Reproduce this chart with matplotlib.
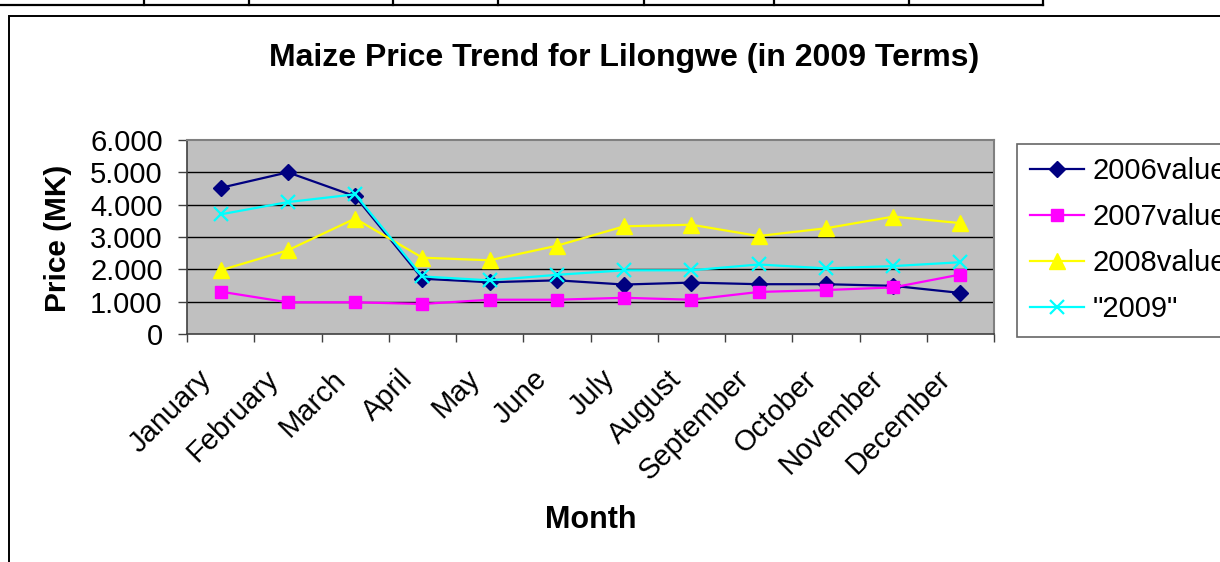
import matplotlib
matplotlib.use('Agg')
import matplotlib.pyplot as plt
from matplotlib.lines import Line2D
from matplotlib.patches import Rectangle
import numpy as np

months = ['January', 'February', 'March', 'April', 'May', 'June', 'July',
          'August', 'September', 'October', 'November', 'December']

# prices in thousand MK
v2006 = [4.52, 5.00, 4.26, 1.71, 1.60, 1.66, 1.53, 1.59, 1.54, 1.54, 1.49, 1.27]
v2007 = [1.31, 0.98, 0.98, 0.93, 1.06, 1.06, 1.12, 1.06, 1.30, 1.36, 1.44, 1.84]
v2008 = [1.97, 2.59, 3.57, 2.36, 2.28, 2.73, 3.33, 3.38, 3.03, 3.27, 3.63, 3.43]
v2009 = [3.70, 4.08, 4.32, 1.78, 1.66, 1.83, 1.97, 1.97, 2.15, 2.03, 2.10, 2.22]

series_names = ['2006value', '2007value', '2008value', '"2009"']
y_ticks = [0, 1, 2, 3, 4, 5, 6]
y_tick_labels = ['0', '1.000', '2.000', '3.000', '4.000', '5.000', '6.000']

plt.rcParams['font.family'] = ['Liberation Sans', 'DejaVu Sans']

W, H = 1220, 562
fig = plt.figure(figsize=(W / 100, H / 100), dpi=100)

# axes placement in pixels (left, top, right, bottom)
L, T, R, B = 187, 140, 994, 334
ax = fig.add_axes([L / W, 1 - B / H, (R - L) / W, (B - T) / H])
ax.set_facecolor('#C0C0C0')

x = np.arange(len(months))
ax.plot(x, v2006, color='#000080', lw=1.6, marker='D', ms=8, label=series_names[0], zorder=3)
ax.plot(x, v2007, color='#FF00FF', lw=1.6, marker='s', ms=9, label=series_names[1], zorder=3)
ax.plot(x, v2008, color='#FFFF00', lw=1.6, marker='^', ms=11, label=series_names[2], zorder=3)
ax.plot(x, v2009, color='#00FFFF', lw=1.6, marker='x', ms=10, mew=1.6, label=series_names[3], zorder=4)

ax.set_xlim(-0.5, len(months) - 0.5)
ax.set_ylim(0, 6)
ax.set_yticks(y_ticks)
ax.set_yticklabels(y_tick_labels, fontsize=21)
for yv in y_ticks[1:-1]:
    ax.axhline(yv, color='black', lw=1.0, zorder=1)

# category boundaries carry the ticks, labels sit at centres
ax.set_xticks(np.arange(len(months) + 1) - 0.5)
ax.set_xticklabels([])
ax.tick_params(axis='x', length=6, width=1, color='#404040')
ax.tick_params(axis='y', length=6.5, width=1, color='#404040', pad=11)
for i, m in enumerate(months):
    ax.text(i - 0.06, -0.95, m, rotation=45, ha='right', va='top', fontsize=21)

for s in ['top', 'right']:
    ax.spines[s].set_color('#808080')
    ax.spines[s].set_linewidth(1.5)
for s in ['left', 'bottom']:
    ax.spines[s].set_color('#404040')
    ax.spines[s].set_linewidth(1.2)

fig.text(624 / W, 1 - 58 / H, 'Maize Price Trend for Lilongwe (in 2009 Terms)',
         ha='center', va='center', fontsize=23, fontweight='bold')
fig.text(591 / W, 1 - 520 / H, 'Month', ha='center', va='center',
         fontsize=22, fontweight='bold')
fig.text(58 / W, 1 - 238 / H, 'Price (MK)', ha='center', va='center',
         rotation=90, fontsize=21.5, fontweight='bold')

leg = fig.legend(loc='upper left', bbox_to_anchor=(1017 / W, 1 - 144 / H),
                 fontsize=21, frameon=True, fancybox=False, edgecolor='#404040',
                 handlelength=1.85, handletextpad=0.3, labelspacing=0.62,
                 borderpad=0.45, borderaxespad=0)
leg.get_frame().set_linewidth(1.2)

# chart area border and the page table edge above it
fig.patches.append(Rectangle((9 / W, -0.2), 1.2, 1.2 - 16 / H,
                             transform=fig.transFigure, fill=False,
                             edgecolor='black', lw=1.4))
fig.add_artist(Line2D([0, 1043 / W], [1 - 5 / H, 1 - 5 / H],
                      transform=fig.transFigure, color='black', lw=1.6))
for xp in [144, 249, 393, 498, 644, 774, 909, 1043]:
    fig.add_artist(Line2D([xp / W, xp / W], [1 - 5 / H, 1.0],
                          transform=fig.transFigure, color='black', lw=1.6))

fig.savefig('out.png', dpi=100)
